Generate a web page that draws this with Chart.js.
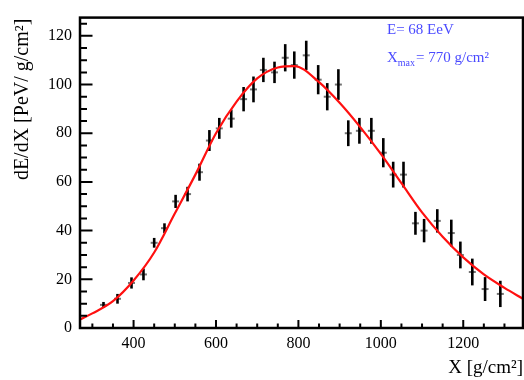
<!DOCTYPE html>
<html>
<head>
<meta charset="utf-8">
<script src="https://cdn.jsdelivr.net/npm/chart.js@4.4.1/dist/chart.umd.min.js"></script>
<style>
  html, body { margin: 0; padding: 0; background: #fff; }
  #wrap { width: 524px; height: 380px; }
</style>
</head>
<body>
<div id="wrap"><canvas id="profileChart" width="524" height="380"></canvas></div>
<script>
// measured points (slant depth, energy deposit, error)
const depth = [327, 361, 395, 424, 450, 475, 502, 531, 560, 584, 608, 637, 667, 691, 715, 742, 768, 790,
               819, 848, 870, 897, 921, 948, 977, 1006, 1030, 1055, 1084, 1105, 1137, 1171, 1193, 1222, 1253, 1290];
const dEdX = [9.5, 12, 18.5, 22, 35, 41, 52, 55, 64, 77, 82, 86, 94, 98, 106, 105, 111, 108,
              112, 102, 95, 100, 80, 81, 81, 72, 63, 63, 43, 40, 44, 39, 30, 23, 16, 14];
const dEdXErr = [1.2, 2, 2.3, 2.4, 2, 2, 2.7, 3, 3.5, 4.3, 4.3, 3.7, 5, 5.3, 5, 4.4, 5.6, 5.6,
                 6, 6, 5.6, 6.3, 5.3, 5.3, 5.3, 6, 5.3, 5.3, 4.7, 4.8, 4.8, 5.5, 5.5, 5.5, 4.9, 5.4];

// fitted profile
const fitX = [270, 300, 350, 400, 450, 500, 550, 600, 650, 700, 750, 790, 850, 900, 950, 1000, 1050, 1100, 1150, 1200, 1250, 1300, 1345];
const fitY = [3.5, 6, 11, 19.5, 31, 47, 63, 80, 93, 102.5, 107, 107.6, 101, 92.5, 82.5, 71.5, 59.5, 47.5, 37.5, 29, 22, 16.5, 12];

const xMajor = [400, 600, 800, 1000, 1200];
const yMajor = [0, 20, 40, 60, 80, 100, 120];
const xMinorStep = 50;
const yMinorStep = 5;

const X_MIN = 270, X_MAX = 1345, Y_MIN = 0, Y_MAX = 127.5;
const serif = "'Liberation Serif', 'DejaVu Serif', serif";

// ROOT-ish frame, inward ticks, error bars, titles and the text box
const rootStyle = {
  id: 'rootStyle',
  beforeDatasetsDraw(chart) {
    const { ctx, scales: { x, y } } = chart;
    ctx.save();
    // error bars
    for (let i = 0; i < depth.length; i++) {
      const px = x.getPixelForValue(depth[i]);
      const py = y.getPixelForValue(dEdX[i]);
      const lo = y.getPixelForValue(dEdX[i] - dEdXErr[i]);
      const hi = y.getPixelForValue(dEdX[i] + dEdXErr[i]);
      ctx.strokeStyle = '#000';
      ctx.lineWidth = 2.6;
      ctx.beginPath();
      ctx.moveTo(px, lo);
      ctx.lineTo(px, hi);
      ctx.stroke();
      ctx.strokeStyle = 'rgba(0,0,0,0.55)';
      ctx.lineWidth = 2;
      ctx.beginPath();
      ctx.moveTo(px - 3.5, py);
      ctx.lineTo(px + 3.5, py);
      ctx.stroke();
    }
    ctx.restore();
  },
  afterDraw(chart) {
    const { ctx, chartArea: a, scales: { x, y } } = chart;
    ctx.save();
    ctx.strokeStyle = '#000';
    // ticks
    ctx.lineWidth = 2;
    ctx.beginPath();
    for (let v = Math.ceil(X_MIN / xMinorStep) * xMinorStep; v <= X_MAX; v += xMinorStep) {
      const px = x.getPixelForValue(v);
      const len = xMajor.includes(v) ? 8 : 4.5;
      ctx.moveTo(px, a.bottom);
      ctx.lineTo(px, a.bottom - len);
    }
    for (let v = Y_MIN; v <= Y_MAX; v += yMinorStep) {
      const py = y.getPixelForValue(v);
      const len = yMajor.includes(v) ? 12.5 : 7;
      ctx.moveTo(a.left, py);
      ctx.lineTo(a.left + len, py);
    }
    ctx.stroke();
    // frame
    ctx.lineWidth = 2.5;
    ctx.strokeRect(a.left, a.top, a.right - a.left, a.bottom - a.top);

    // axis titles
    ctx.fillStyle = '#000';
    ctx.font = '19px ' + serif;
    ctx.textAlign = 'right';
    ctx.textBaseline = 'alphabetic';
    ctx.fillText('X [g/cm\u00B2]', a.right, 373);
    ctx.save();
    ctx.translate(28, a.top + 1);
    ctx.rotate(-Math.PI / 2);
    ctx.font = '20px ' + serif;
    ctx.fillText('dE/dX [PeV/ g/cm\u00B2]', 0, 0);
    ctx.restore();

    // info box text
    ctx.fillStyle = '#4a4aff';
    ctx.textAlign = 'left';
    ctx.font = '15px ' + serif;
    ctx.fillText('E= 68 EeV', 387, 34);
    let tx = 387;
    ctx.fillText('X', tx, 62);
    tx += ctx.measureText('X').width;
    ctx.font = '10px ' + serif;
    ctx.fillText('max', tx, 66);
    tx += ctx.measureText('max').width + 1;
    ctx.font = '15px ' + serif;
    ctx.fillText('= 770 g/cm\u00B2', tx, 62);
    ctx.restore();
  }
};

const ctx = document.getElementById('profileChart').getContext('2d');
window.myChart = new Chart(ctx, {
  type: 'scatter',
  data: {
    datasets: [
      {
        type: 'line',
        label: 'fit',
        data: fitX.map((v, i) => ({ x: v, y: fitY[i] })),
        borderColor: '#ff1010',
        borderWidth: 2.2,
        pointRadius: 0,
        fill: false,
        cubicInterpolationMode: 'monotone'
      },
      {
        label: 'data',
        data: depth.map((v, i) => ({ x: v, y: dEdX[i] })),
        pointRadius: 0
      }
    ]
  },
  options: {
    responsive: false,
    animation: false,
    layout: { padding: { top: 11, right: 1, left: 0, bottom: 0 } },
    plugins: { legend: { display: false }, tooltip: { enabled: false } },
    scales: {
      x: {
        type: 'linear',
        min: X_MIN,
        max: X_MAX,
        grid: { display: false, drawTicks: false },
        border: { display: false },
        afterBuildTicks: (s) => { s.ticks = xMajor.map(v => ({ value: v })); },
        afterFit: (s) => { s.height = 52; },
        ticks: { color: '#000', font: { family: serif, size: 16 }, padding: 6, maxRotation: 0,
                 callback: (v) => String(v) }
      },
      y: {
        min: Y_MIN,
        max: Y_MAX,
        grid: { display: false, drawTicks: false },
        border: { display: false },
        afterBuildTicks: (s) => { s.ticks = yMajor.map(v => ({ value: v })); },
        afterFit: (s) => { s.width = 80; },
        ticks: { color: '#000', font: { family: serif, size: 16 }, padding: 8,
                 callback: (v) => String(v) }
      }
    }
  },
  plugins: [rootStyle]
});
</script>
</body>
</html>
